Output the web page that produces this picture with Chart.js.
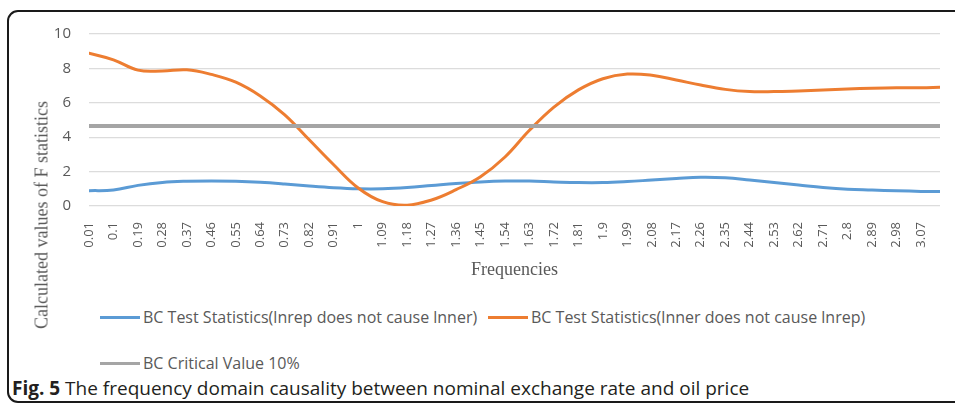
<!DOCTYPE html>
<html>
<head>
<meta charset="utf-8">
<script src="https://cdn.jsdelivr.net/npm/chart.js@4"></script>
<style>
  body { margin: 0; width: 955px; height: 404px; background: #fff; position: relative; overflow: hidden; font-family: "Open Sans", sans-serif; }
  .frame { position: absolute; left: 7px; top: 10px; width: 1000px; height: 393px; box-sizing: border-box; border: 2px solid #1a1a1a; border-radius: 11px; }
  #wrap { position: absolute; left: 0; top: 0; width: 955px; height: 290px; }
  .ytitle { position: absolute; left: 42px; top: 215px; transform: translate(-50%, -50%) rotate(-90deg); white-space: nowrap;
            font-family: "Liberation Serif", serif; font-size: 18px; color: #595959; }
  .leg { position: absolute; display: flex; align-items: center; font-size: 16px; color: #595959; white-space: nowrap; }
  .leg i { display: inline-block; width: 40px; height: 3px; margin-right: 3px; }
  .caption { position: absolute; left: 12px; top: 375px; font-size: 19px; color: #231f20; white-space: nowrap; }
</style>
</head>
<body>
<div class="frame"></div>
<div id="wrap"><canvas id="chart"></canvas></div>
<div class="ytitle">Calculated values of F statistics</div>
<div class="leg" style="left:100px; top:306px"><i style="background:#5b9bd5"></i>BC Test Statistics(lnrep does not cause lnner)</div>
<div class="leg" style="left:488px; top:306px"><i style="background:#ed7d31"></i>BC Test Statistics(lnner does not cause lnrep)</div>
<div class="leg" style="left:100px; top:352px"><i style="background:#a5a5a5"></i>BC Critical Value 10%</div>
<div class="caption"><b>Fig. 5</b> The frequency domain causality between nominal exchange rate and oil price</div>
<script>
// Подписи оси X (как в исходном графике)
const tickLabels = ['0.01', '0.1', '0.19', '0.28', '0.37', '0.46', '0.55', '0.64', '0.73', '0.82', '0.91', '1',
  '1.09', '1.18', '1.27', '1.36', '1.45', '1.54', '1.63', '1.72', '1.81', '1.9', '1.99', '2.08', '2.17',
  '2.26', '2.35', '2.44', '2.53', '2.62', '2.71', '2.8', '2.89', '2.98', '3.07'];

// Частоты точек данных
const frequencies = [0.01, 0.1, 0.19, 0.28, 0.37, 0.46, 0.55, 0.64, 0.73, 0.82, 0.91, 1,
  1.09, 1.18, 1.27, 1.36, 1.45, 1.54, 1.63, 1.72, 1.81, 1.9, 1.99, 2.08, 2.17,
  2.26, 2.35, 2.44, 2.53, 2.62, 2.71, 2.8, 2.89, 2.98, 3.07, 3.14];

// lnrep -> lnner
const lnrepToLnner = [0.89, 0.93, 1.2, 1.37, 1.44, 1.46, 1.44, 1.38, 1.28, 1.16, 1.06, 1.0,
  1.0, 1.07, 1.19, 1.31, 1.4, 1.45, 1.45, 1.4, 1.36, 1.36, 1.42, 1.51, 1.6,
  1.67, 1.64, 1.51, 1.36, 1.22, 1.08, 0.98, 0.93, 0.88, 0.85, 0.85];

// lnner -> lnrep
const lnnerToLnrep = [8.88, 8.5, 7.9, 7.85, 7.92, 7.65, 7.2, 6.4, 5.3, 3.85, 2.4, 1.05,
  0.25, 0.05, 0.35, 0.95, 1.7, 2.85, 4.4, 5.75, 6.75, 7.4, 7.67, 7.6, 7.33,
  7.03, 6.78, 6.65, 6.65, 6.69, 6.74, 6.8, 6.85, 6.88, 6.88, 6.9];

// Критическое значение 10%
const criticalValue = frequencies.map(() => 4.65);

const yTicks = [0, 2, 4, 6, 8, 10];

function toPoints(values) {
  return frequencies.map((f, i) => ({ x: f, y: values[i] }));
}

const ctx = document.getElementById('chart').getContext('2d');
new Chart(ctx, {
  type: 'line',
  data: {
    datasets: [
      { label: 'BC Critical Value 10%', data: toPoints(criticalValue), borderColor: '#a5a5a5', borderWidth: 4, order: 0 },
      { label: 'BC Test Statistics(lnner does not cause lnrep)', data: toPoints(lnnerToLnrep), borderColor: '#ed7d31', borderWidth: 3, order: 1 },
      { label: 'BC Test Statistics(lnrep does not cause lnner)', data: toPoints(lnrepToLnner), borderColor: '#5b9bd5', borderWidth: 3, order: 2 }
    ]
  },
  options: {
    responsive: true,
    maintainAspectRatio: false,
    animation: false,
    elements: {
      point: { radius: 0 },
      line: { tension: 0.4, borderCapStyle: 'round' }
    },
    layout: { padding: { left: 0, right: 15, top: 34, bottom: 0 } },
    plugins: { legend: { display: false }, tooltip: { enabled: false } },
    scales: {
      x: {
        type: 'linear',
        min: 0.01,
        max: 3.14,
        afterBuildTicks: (scale) => {
          scale.ticks = tickLabels.map(t => ({ value: parseFloat(t) }));
        },
        afterFit: (scale) => { scale.height = 84; },
        ticks: {
          autoSkip: false,
          minRotation: 90,
          maxRotation: 90,
          padding: 8,
          color: '#595959',
          font: { family: 'Open Sans', size: 13 },
          callback: (value, index) => tickLabels[index]
        },
        grid: { display: false },
        border: { display: false },
        title: {
          display: true,
          text: 'Frequencies',
          color: '#595959',
          font: { family: 'Liberation Serif', size: 18 },
          padding: { top: 2, bottom: 9 }
        }
      },
      y: {
        min: 0,
        max: 10,
        afterBuildTicks: (scale) => {
          scale.ticks = yTicks.map(v => ({ value: v }));
        },
        afterFit: (scale) => { scale.width = 89; },
        ticks: {
          padding: 18,
          color: '#595959',
          font: { family: 'Open Sans', size: 15 }
        },
        grid: { color: '#dcdcdc', lineWidth: 1.2, drawTicks: false },
        border: { display: false }
      }
    }
  }
});
</script>
</body>
</html>
